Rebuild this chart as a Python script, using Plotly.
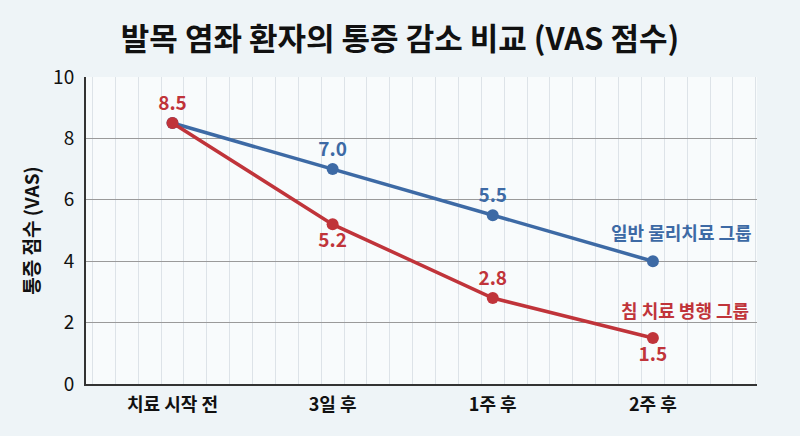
import plotly.graph_objects as go

# data
stages = ['치료 시작 전', '3일 후', '1주 후', '2주 후']
general_pt = [8.5, 7.0, 5.5, 4.0]
acupuncture = [8.5, 5.2, 2.8, 1.5]
general_name = '일반 물리치료 그룹'
acu_name = '침 치료 병행 그룹'

BLUE = '#3d6aa5'
RED = '#c0343a'
FONT = 'Noto Sans CJK KR'

x_idx = list(range(len(stages)))

fig = go.Figure()

# blue series, labels above (skip shared start and end)
fig.add_trace(go.Scatter(
    x=x_idx, y=general_pt, mode='lines+markers+text',
    line=dict(color=BLUE, width=3.5),
    marker=dict(color=BLUE, size=12),
    text=['', f'<b>{general_pt[1]:.1f}</b>', f'<b>{general_pt[2]:.1f}</b>', ''],
    textposition='top center',
    textfont=dict(family=FONT, size=19, color=BLUE),
    cliponaxis=False, name=general_name, showlegend=False))

# red series
fig.add_trace(go.Scatter(
    x=x_idx, y=acupuncture, mode='lines+markers+text',
    line=dict(color=RED, width=3.5),
    marker=dict(color=RED, size=12),
    text=[f'<b>{v:.1f}</b>' for v in acupuncture],
    textposition=['top center', 'bottom center', 'top center', 'bottom center'],
    textfont=dict(family=FONT, size=19, color=RED),
    cliponaxis=False, name=acu_name, showlegend=False))

# series labels near the last point
fig.add_annotation(x=x_idx[-1] + 0.18, y=general_pt[-1], text=f'<b>{general_name}</b>',
                   showarrow=False, yshift=29, font=dict(family=FONT, size=18, color=BLUE))
fig.add_annotation(x=x_idx[-1] + 0.2, y=acupuncture[-1], text=f'<b>{acu_name}</b>',
                   showarrow=False, yshift=28, font=dict(family=FONT, size=18, color=RED))

fig.update_layout(
    width=800, height=436,
    margin=dict(l=86, r=43, t=77, b=52),
    paper_bgcolor='#eef4f7',
    plot_bgcolor='#f8fbfc',
    font=dict(family=FONT, color='#111111'),
    title=dict(text='<b>발목 염좌 환자의 통증 감소 비교 (VAS 점수)</b>',
               x=0.5, xanchor='center', y=0.91, yanchor='middle',
               font=dict(family=FONT, size=31, color='#111111')),
)

fig.update_xaxes(
    range=[-0.54, 3.65], tickvals=x_idx, ticktext=[f'<b>{s}</b>' for s in stages],
    tickfont=dict(family=FONT, size=18, color='#111111'),
    showgrid=False, zeroline=False, automargin=False,
    showline=True, linecolor='#333333', linewidth=2,
    ticks='', ticklabelstandoff=3,
    minor=dict(tick0=0.5 / 7, dtick=1 / 7, showgrid=True, gridcolor='#dde3e8', gridwidth=1),
)

fig.update_yaxes(
    range=[0, 10], dtick=2, automargin=False,
    tickfont=dict(family=FONT, size=19, color='#111111'),
    title=dict(text='<b>통증 점수 (VAS)</b>', font=dict(family=FONT, size=19, color='#111111'),
               standoff=8),
    showgrid=True, gridcolor='#9a9a9a', gridwidth=1,
    zeroline=False, showline=True, linecolor='#333333', linewidth=2,
    ticks='', ticklabelstandoff=6,
)

# drop the default page margin so the figure sits at the window corner
fig.write_html('out.html', config={'displayModeBar': False},
               post_script="document.body.style.margin='0';")
